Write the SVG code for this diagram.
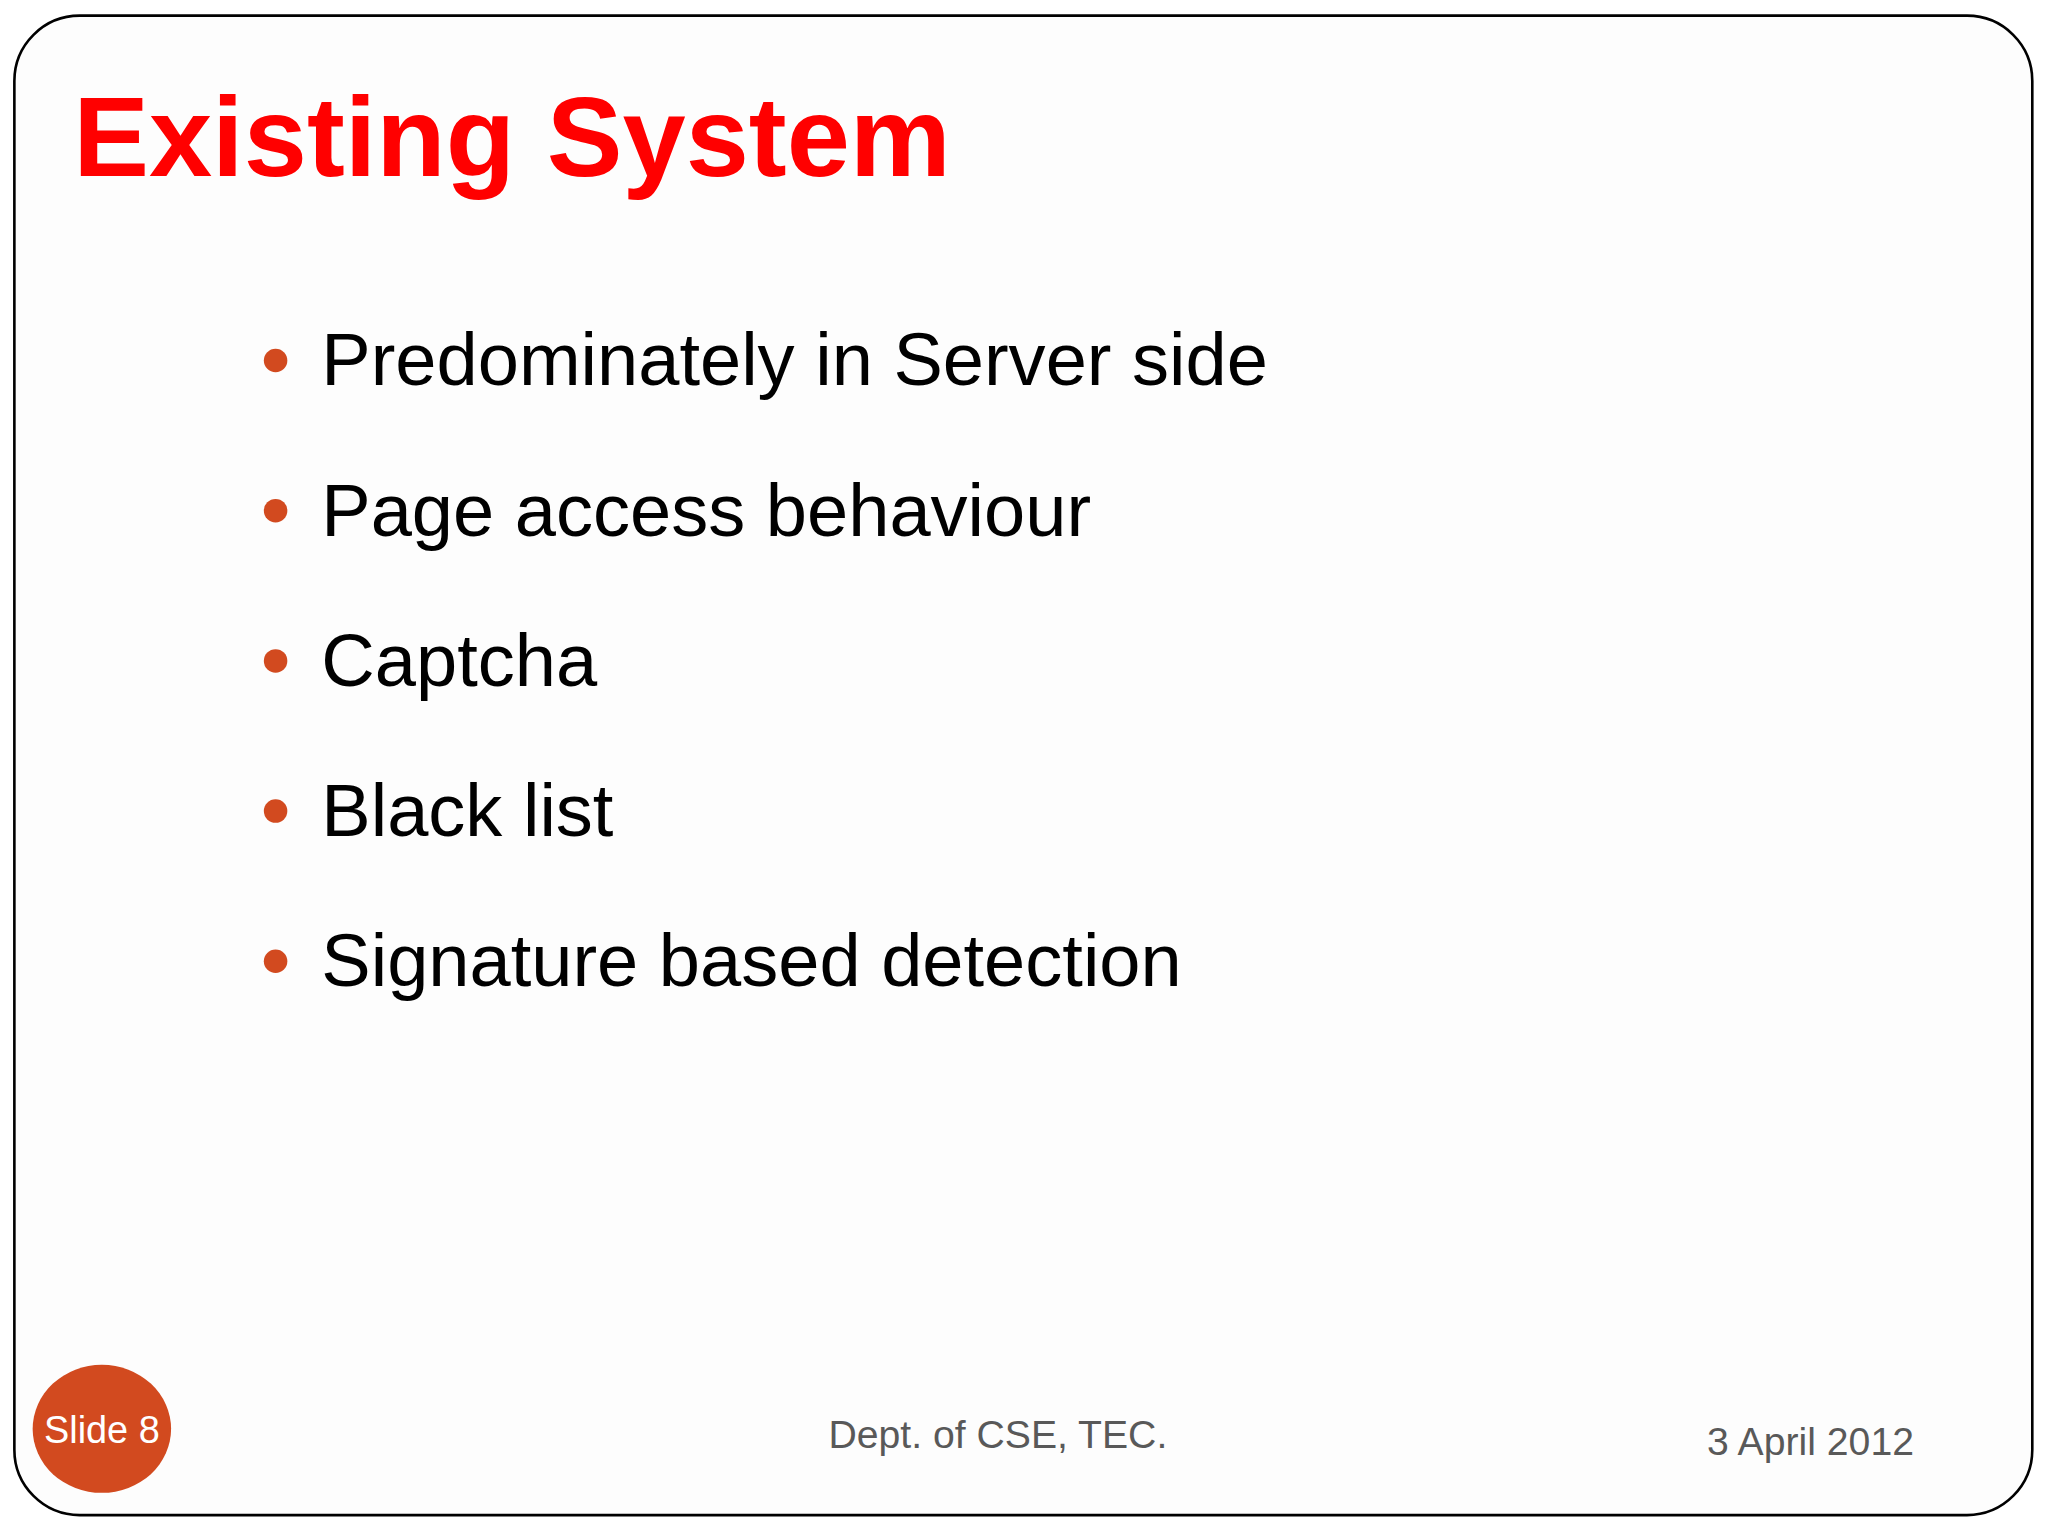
<svg xmlns="http://www.w3.org/2000/svg" width="2048" height="1536" viewBox="0 0 2048 1536">
<style>
.b{font-family:"Liberation Sans",Arial,sans-serif;font-size:56.7px;fill:#000}
.d{fill:#d24a1f}
.f{font-family:"Liberation Sans",Arial,sans-serif;font-size:30px;fill:#595959}
</style>
<rect width="2048" height="1536" fill="#fff"/>
<g transform="scale(1.3061)">
<rect x="11" y="12" width="1545" height="1148" rx="50" fill="#fdfdfd" stroke="#000" stroke-width="2"/>
<text x="56" y="135" font-family="'Liberation Sans',Arial,sans-serif" font-weight="bold" font-size="87" fill="#f00">Existing System</text>
<g id="b1"><circle class="d" cx="211" cy="276" r="9"/><text class="b" x="246" y="295">Predominately in Server side</text></g>
<g id="b2"><circle class="d" cx="211" cy="391" r="9"/><text class="b" x="246" y="410">Page access behaviour</text></g>
<g id="b3"><circle class="d" cx="211" cy="506" r="9"/><text class="b" x="246" y="525">Captcha</text></g>
<g id="b4"><circle class="d" cx="211" cy="621" r="9"/><text class="b" x="246" y="640">Black list</text></g>
<g id="b5"><circle class="d" cx="211" cy="736" r="9"/><text class="b" x="246" y="755">Signature based detection</text></g>
<g id="slide"><ellipse class="d" cx="78" cy="1094" rx="53" ry="49"/><text x="78" y="1105" text-anchor="middle" font-family="'Liberation Sans',Arial,sans-serif" font-size="29" fill="#fff">Slide 8</text></g>
<text class="f" x="764" y="1109" text-anchor="middle">Dept. of CSE, TEC.</text>
<text class="f" x="1307" y="1114">3 April 2012</text>
</g>
</svg>
